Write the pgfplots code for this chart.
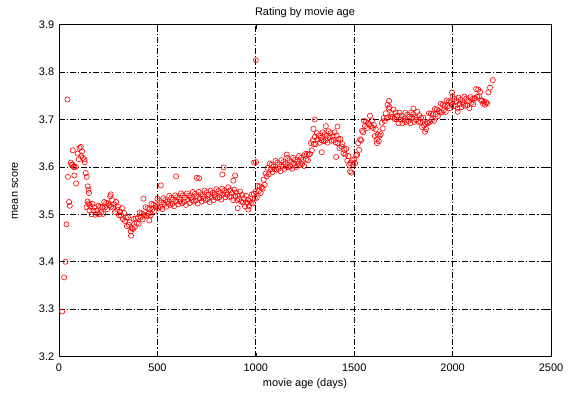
\documentclass[border=0pt]{standalone}
\usepackage{fontspec}
\setmainfont{Liberation Sans}
\usepackage{pgfplots}
\pgfplotsset{compat=1.18}
\begin{document}
\fontsize{11}{13}\selectfont
\begin{tikzpicture}
\useasboundingbox (-59bp,-37.4bp) rectangle (511bp,356.6bp);
\begin{axis}[
  name=main,
  at={(0,0)}, anchor=south west,
  scale only axis, width=492bp, height=332bp,
  xmin=0, xmax=2500, ymin=3.2, ymax=3.9,
  xtick={0,500,...,2500}, ytick={3.2,3.3,3.4,3.5,3.6,3.7,3.8,3.9},
  /pgf/number format/assume math mode=true,
  /pgf/number format/1000 sep={},
  y tick label style={/pgf/number format/fixed, /pgf/number format/fixed zerofill, /pgf/number format/precision=1, xshift=-1bp},
  x tick label style={yshift=-3bp},
  scaled ticks=false,
  tick align=inside, major tick length=4bp,
  tick style={black, line width=0.6pt},
  axis line style={black, line width=0.8pt},
  grid=major,
  major grid style={black, line width=0.65pt, dash pattern=on 6bp off 2bp on 1.2bp off 2bp},
  xlabel={movie age (days)},
  xlabel style={at={(axis description cs:0.5,-0.083)}, anchor=center},
  ylabel={mean score},
  ylabel style={at={(axis description cs:-0.0894,0.5)}, anchor=center},
]
\addplot[only marks, mark=o, mark size=2.6bp, red, mark options={line width=0.6pt}] coordinates {
(16,3.295)(26,3.367)(33,3.400)(38,3.479)(43,3.742)(45,3.579)(51,3.526)(55,3.518)
(60,3.609)(64,3.604)(68,3.605)(70,3.635)(74,3.600)(78,3.582)(78,3.600)(85,3.600)(87,3.565)
(95,3.628)(101,3.616)(104,3.640)(111,3.642)(112,3.623)(117,3.633)(121,3.619)(129,3.616)(131,3.610)
(136,3.587)(141,3.579)(146,3.559)(150,3.552)(152,3.545)(155,3.520)(145,3.527)(140,3.515)
(150,3.523)(155,3.508)(160,3.516)(165,3.500)(170,3.522)(175,3.508)(180,3.515)(185,3.499)(190,3.508)(195,3.502)
(200,3.518)(205,3.500)(210,3.516)(215,3.504)(220,3.515)(225,3.501)(230,3.526)(235,3.515)(240,3.524)(245,3.511)
(250,3.523)(255,3.519)(260,3.538)(265,3.516)(270,3.530)(275,3.514)(280,3.521)(285,3.505)(290,3.526)(295,3.510)
(300,3.516)(305,3.498)(310,3.506)(315,3.498)(320,3.513)(325,3.490)(330,3.503)(335,3.486)(340,3.493)(345,3.475)
(350,3.494)(355,3.478)(360,3.483)(365,3.464)(370,3.471)(375,3.469)(380,3.490)(385,3.473)(390,3.491)(395,3.481)
(400,3.493)(405,3.480)(410,3.504)(415,3.493)(420,3.502)(425,3.489)(430,3.500)(435,3.497)(440,3.515)(445,3.497)
(450,3.513)(455,3.501)(460,3.511)(465,3.498)(470,3.522)(475,3.511)(480,3.520)(485,3.507)(490,3.518)(495,3.515)
(500,3.533)(505,3.514)(510,3.529)(515,3.516)(520,3.525)(525,3.511)(530,3.534)(535,3.522)(540,3.530)(545,3.516)
(550,3.526)(555,3.522)(560,3.539)(565,3.520)(570,3.535)(575,3.522)(580,3.531)(585,3.517)(590,3.540)(595,3.528)
(600,3.536)(605,3.521)(610,3.532)(615,3.527)(620,3.544)(625,3.524)(630,3.540)(635,3.526)(640,3.535)(645,3.520)
(650,3.544)(655,3.531)(660,3.539)(665,3.524)(670,3.535)(675,3.530)(680,3.547)(685,3.527)(690,3.543)(695,3.529)
(700,3.538)(705,3.523)(710,3.547)(715,3.534)(720,3.542)(725,3.527)(730,3.538)(735,3.533)(740,3.550)(745,3.530)
(750,3.546)(755,3.532)(760,3.541)(765,3.526)(770,3.550)(775,3.537)(780,3.545)(785,3.530)(790,3.541)(795,3.536)
(800,3.553)(805,3.534)(810,3.549)(815,3.536)(820,3.545)(825,3.531)(830,3.554)(835,3.542)(840,3.550)(845,3.536)
(850,3.546)(855,3.541)(860,3.557)(865,3.537)(870,3.551)(875,3.537)(880,3.545)(885,3.530)(890,3.552)(895,3.539)
(900,3.546)(905,3.530)(910,3.539)(915,3.532)(920,3.548)(925,3.527)(930,3.541)(935,3.525)(940,3.533)(945,3.517)
(950,3.539)(955,3.524)(960,3.531)(965,3.517)(970,3.528)(975,3.524)(980,3.542)(985,3.523)(990,3.543)(995,3.534)
(1000,3.548)(1005,3.535)(1010,3.560)(1015,3.549)(1020,3.559)(1025,3.545)(1030,3.557)(1035,3.554)(1040,3.573)(1045,3.562)
(1050,3.586)(1055,3.580)(1060,3.598)(1065,3.584)(1070,3.607)(1075,3.595)(1080,3.604)(1085,3.589)(1090,3.600)(1095,3.595)
(1100,3.613)(1105,3.594)(1110,3.609)(1115,3.596)(1120,3.605)(1125,3.591)(1130,3.614)(1135,3.602)(1140,3.610)(1145,3.596)
(1150,3.606)(1155,3.601)(1160,3.619)(1165,3.599)(1170,3.614)(1175,3.601)(1180,3.610)(1185,3.596)(1190,3.619)(1195,3.607)
(1200,3.615)(1205,3.600)(1210,3.611)(1215,3.606)(1220,3.623)(1225,3.604)(1230,3.619)(1235,3.606)(1240,3.615)(1245,3.602)
(1250,3.627)(1255,3.616)(1260,3.627)(1265,3.614)(1270,3.626)(1275,3.627)(1280,3.650)(1285,3.635)(1290,3.656)(1295,3.648)
(1300,3.663)(1305,3.648)(1310,3.671)(1315,3.658)(1320,3.666)(1325,3.651)(1330,3.661)(1335,3.656)(1340,3.673)(1345,3.654)
(1350,3.669)(1355,3.656)(1360,3.665)(1365,3.651)(1370,3.675)(1375,3.662)(1380,3.671)(1385,3.655)(1390,3.664)(1395,3.657)
(1400,3.673)(1405,3.652)(1410,3.666)(1415,3.650)(1420,3.658)(1425,3.640)(1430,3.659)(1435,3.643)(1440,3.648)(1445,3.629)
(1450,3.636)(1455,3.626)(1460,3.638)(1465,3.613)(1470,3.623)(1475,3.604)(1480,3.608)(1485,3.588)(1490,3.614)(1495,3.605)
(1500,3.616)(1505,3.608)(1510,3.624)(1515,3.626)(1520,3.650)(1525,3.636)(1530,3.658)(1535,3.656)(1540,3.676)(1545,3.673)
(1550,3.697)(1555,3.686)(1560,3.695)(1565,3.682)(1570,3.693)(1575,3.690)(1580,3.708)(1585,3.686)(1590,3.698)(1595,3.682)
(1600,3.688)(1605,3.665)(1610,3.679)(1615,3.658)(1620,3.668)(1625,3.654)(1630,3.666)(1635,3.669)(1640,3.693)(1645,3.681)
(1650,3.703)(1655,3.697)(1660,3.713)(1665,3.703)(1670,3.731)(1675,3.723)(1680,3.726)(1685,3.706)(1690,3.711)(1695,3.705)
(1700,3.721)(1705,3.701)(1710,3.715)(1715,3.700)(1720,3.708)(1725,3.692)(1730,3.714)(1735,3.700)(1740,3.708)(1745,3.692)
(1750,3.701)(1755,3.697)(1760,3.714)(1765,3.695)(1770,3.710)(1775,3.697)(1780,3.706)(1785,3.692)(1790,3.715)(1795,3.703)
(1800,3.711)(1805,3.695)(1810,3.705)(1815,3.699)(1820,3.716)(1825,3.695)(1830,3.709)(1835,3.695)(1840,3.703)(1845,3.684)
(1850,3.704)(1855,3.687)(1860,3.691)(1865,3.680)(1870,3.694)(1875,3.692)(1880,3.713)(1885,3.695)(1890,3.712)(1895,3.700)
(1900,3.711)(1905,3.697)(1910,3.722)(1915,3.711)(1920,3.721)(1925,3.707)(1930,3.718)(1935,3.715)(1940,3.733)(1945,3.715)
(1950,3.731)(1955,3.719)(1960,3.729)(1965,3.716)(1970,3.740)(1975,3.728)(1980,3.738)(1985,3.724)(1990,3.736)(1995,3.731)
(2000,3.748)(2005,3.728)(2010,3.743)(2015,3.729)(2020,3.738)(2025,3.723)(2030,3.746)(2035,3.733)(2040,3.741)(2045,3.726)
(2050,3.736)(2055,3.731)(2060,3.748)(2065,3.729)(2070,3.744)(2075,3.730)(2080,3.739)(2085,3.724)(2090,3.747)(2095,3.735)
(2100,3.743)(2105,3.732)(2110,3.745)(2115,3.744)(2120,3.764)(2125,3.748)(2130,3.763)(2135,3.749)(2140,3.758)(2145,3.740)
(2150,3.740)(2155,3.733)(2160,3.738)(2165,3.731)(2170,3.736)(2175,3.734)(2182,3.757)(2190,3.767)(2204,3.783)
(263,3.542)(366,3.455)(429,3.533)(459,3.487)(517,3.561)(595,3.580)(700,3.577)(712,3.576)(830,3.584)(836,3.599)
(886,3.571)(895,3.582)(908,3.513)(962,3.510)(991,3.609)(1001,3.610)(1000,3.825)(1157,3.626)(1293,3.680)(1300,3.700)
(1335,3.631)(1356,3.686)(1408,3.621)(1415,3.685)(1479,3.591)(1616,3.650)(1677,3.739)(1801,3.723)(1860,3.674)(1997,3.757)(2026,3.716)
};
\end{axis}
\node[anchor=center, yshift=12.4bp, inner sep=0pt] at (main.north) {Rating by movie age};
\end{tikzpicture}
\end{document}
